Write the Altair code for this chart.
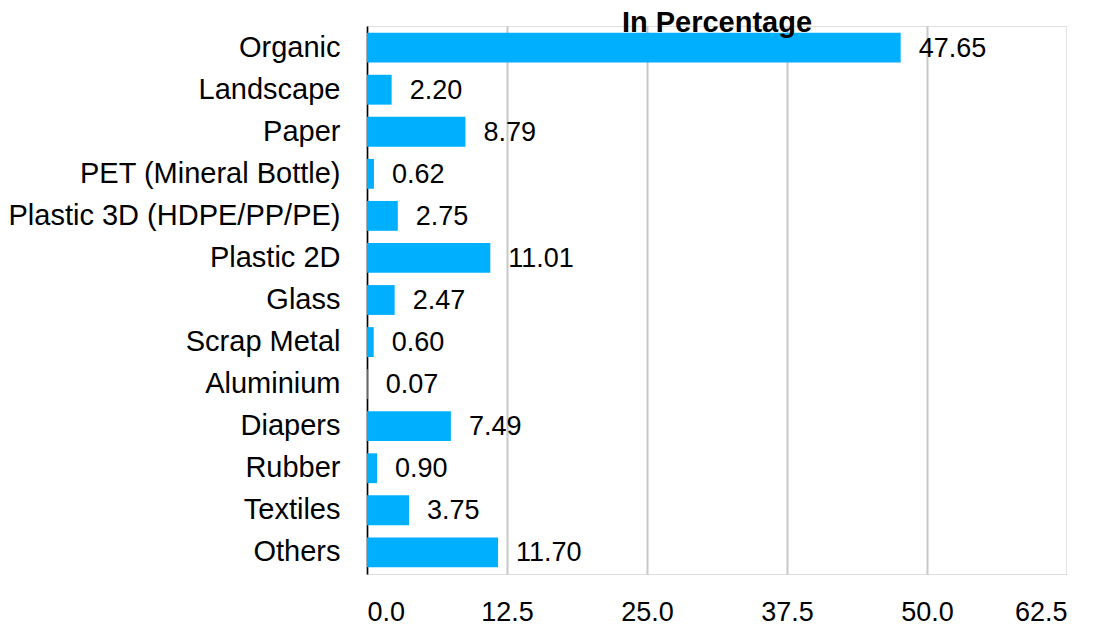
import altair as alt
import pandas as pd

categories = ["Organic", "Landscape", "Paper", "PET (Mineral Bottle)",
              "Plastic 3D (HDPE/PP/PE)", "Plastic 2D", "Glass", "Scrap Metal",
              "Aluminium", "Diapers", "Rubber", "Textiles", "Others"]
values = [47.65, 2.20, 8.79, 0.62, 2.75, 11.01, 2.47, 0.60, 0.07, 7.49, 0.90, 3.75, 11.70]
x_ticks = [0, 12.5, 25, 37.5, 50, 62.5]

df = pd.DataFrame({"category": categories, "value": values})

FONT = "Liberation Sans"

y_axis = alt.Axis(domain=True, domainColor="black", domainWidth=1.5,
                  ticks=False, labelFontSize=29, labelFont=FONT,
                  labelColor="black", labelPadding=27, grid=False,
                  labelLimit=500)
x_axis = alt.Axis(values=x_ticks, format=".1f", domain=False, domainColor="transparent",
                  domainOpacity=0, domainWidth=0, ticks=False, grid=True,
                  gridColor="#c8c8c8", gridWidth=2, labelFontSize=27, labelFont=FONT,
                  labelColor="black", labelPadding=25)
y_scale = alt.Scale(paddingInner=0.29, paddingOuter=0.16)
x_scale = alt.Scale(domain=[0, 62.5], nice=False)

bars = alt.Chart(df).mark_bar(color="#00B0FF").encode(
    x=alt.X("value:Q", scale=x_scale, title=None, axis=x_axis),
    y=alt.Y("category:N", sort=categories, title=None, scale=y_scale, axis=y_axis),
)

labels = alt.Chart(df).mark_text(align="left", baseline="middle", dx=18, dy=1,
                                 fontSize=27, font=FONT, color="black").encode(
    x=alt.X("value:Q", scale=x_scale, title=None, axis=x_axis),
    y=alt.Y("category:N", sort=categories, title=None, scale=y_scale, axis=y_axis),
    text=alt.Text("value:Q", format=".2f"),
)

chart = (bars + labels).properties(
    width=700, height=548,
    padding={"left": 0, "top": 0, "right": 0, "bottom": 0},
    title=alt.TitleParams("In Percentage", fontSize=29, font=FONT, fontWeight="bold",
                          color="black", anchor="middle", offset=-16, dy=-4.5),
).configure_view(stroke="transparent", strokeWidth=0).configure_axisX(
    domain=False, domainColor="transparent"
).configure_axisBand(grid=False).configure(background="white")

chart.save("out.html", embed_options={"renderer": "svg", "actions": False})
